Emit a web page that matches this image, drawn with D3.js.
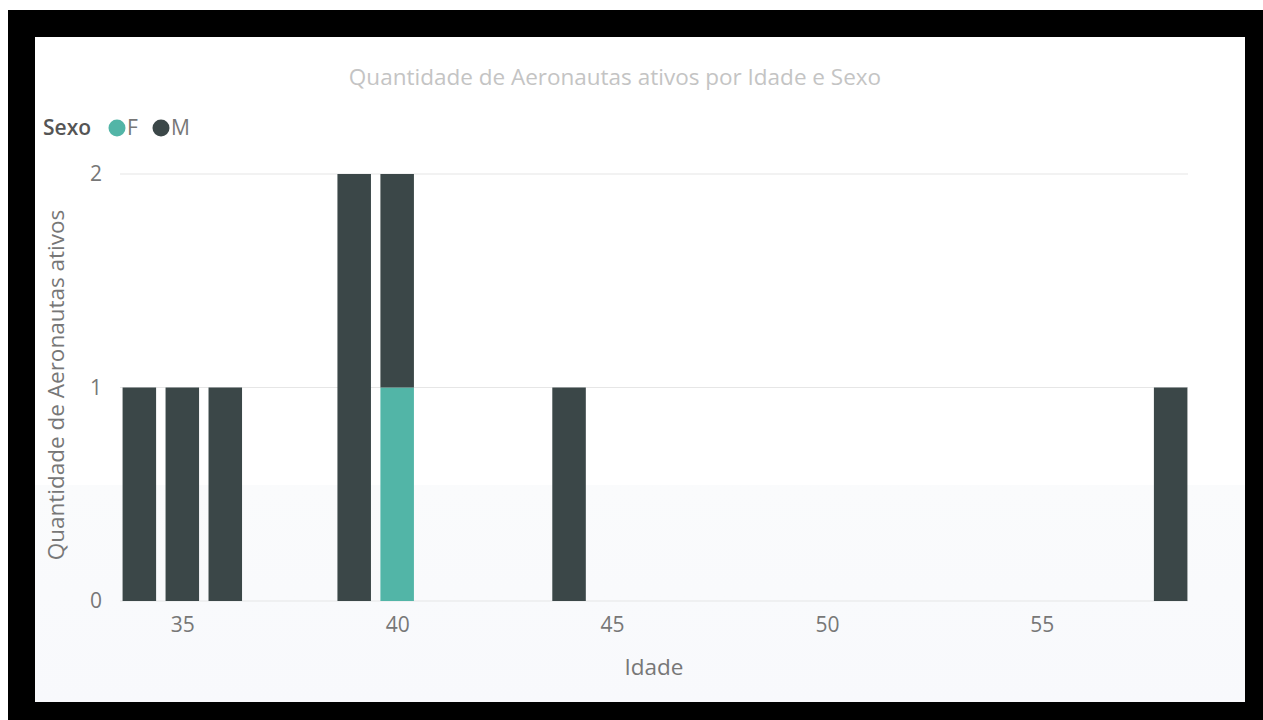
<!DOCTYPE html>
<html><head><meta charset="utf-8">
<script src="https://cdn.jsdelivr.net/npm/d3@7"></script>
<style>body{margin:0;background:#fff;} svg{display:block;}</style>
</head><body>
<script>
const ages = [34, 35, 36, 39, 40, 44, 58];
const femaleCounts = [0, 0, 0, 0, 1, 0, 0];
const maleCounts = [1, 1, 1, 2, 1, 1, 1];
const xTicks = [35, 40, 45, 50, 55];
const yTicks = [0, 1, 2];
const seriesNames = ["F", "M"];
const seriesColors = ["#52b5a7", "#3b4748"];
const title = "Quantidade de Aeronautas ativos por Idade e Sexo";

const W = 1263, H = 720;
const svg = d3.select("body").append("svg").attr("width", W).attr("height", H);
const font = "'Open Sans', 'Noto Sans', sans-serif";

// frame
svg.append("rect").attr("x", 8).attr("y", 10).attr("width", W - 8).attr("height", H - 10).attr("fill", "#000");
svg.append("rect").attr("x", 35).attr("y", 37).attr("width", 1210).attr("height", 665).attr("fill", "#fff");
const grad = svg.append("defs").append("linearGradient").attr("id", "g").attr("x1", 0).attr("x2", 0).attr("y1", 0).attr("y2", 1);
grad.append("stop").attr("offset", 0).attr("stop-color", "#fafbfc");
grad.append("stop").attr("offset", 1).attr("stop-color", "#f8f9fc");
svg.append("rect").attr("x", 35).attr("y", 485).attr("width", 1210).attr("height", 217).attr("fill", "url(#g)");

const x = d3.scaleLinear().domain([33.55, 58.45]).range([120, 1190]);
const y = d3.scaleLinear().domain([0, 2]).range([601, 174]);

// title
svg.append("text").attr("x", 615).attr("y", 85).attr("text-anchor", "middle")
  .attr("font-family", font).attr("font-size", 22.5).attr("fill", "#c4c4c4").text(title);

// legend
const lg = svg.append("g").attr("font-family", font).attr("font-size", 21);
lg.append("text").attr("x", 43).attr("y", 135).attr("fill", "#555").attr("font-weight", 600).text("Sexo");
const legX = [117, 161];
seriesNames.forEach((n, i) => {
  lg.append("circle").attr("cx", legX[i]).attr("cy", 128).attr("r", 8.5).attr("fill", seriesColors[i]);
  lg.append("text").attr("x", legX[i] + 10).attr("y", 135).attr("fill", "#777").text(n);
});

// grid
svg.append("g").selectAll("line").data(yTicks).join("line")
  .attr("x1", 120).attr("x2", 1188).attr("y1", d => y(d)).attr("y2", d => y(d))
  .attr("stroke", "#e6e6e6").attr("stroke-width", 1.2);

// y axis
const ya = svg.append("g").attr("transform", "translate(108,0)")
  .call(d3.axisLeft(y).tickValues(yTicks).tickSize(0).tickFormat(d3.format("d")));
ya.select(".domain").remove();
ya.selectAll("text").attr("font-family", font).attr("font-size", 21).attr("fill", "#777").attr("x", -6);

// x axis
const xa = svg.append("g").attr("transform", "translate(0,610)")
  .call(d3.axisBottom(x).tickValues(xTicks).tickSize(0));
xa.select(".domain").remove();
xa.selectAll("text").attr("font-family", font).attr("font-size", 21).attr("fill", "#777").attr("dy", "0.9em");

// axis titles
svg.append("text").attr("x", 654).attr("y", 675).attr("text-anchor", "middle")
  .attr("font-family", font).attr("font-size", 22.5).attr("fill", "#777").text("Idade");
svg.append("text").attr("transform", "translate(64,385) rotate(-90)").attr("text-anchor", "middle")
  .attr("font-family", font).attr("font-size", 22.5).attr("fill", "#777").text("Quantidade de Aeronautas ativos");

// bars
const data = ages.map((a, i) => ({ age: a, F: femaleCounts[i], M: maleCounts[i] }));
const stack = d3.stack().keys(seriesNames)(data);
const bw = x(34.39) - x(33.61);
svg.append("g").selectAll("g").data(stack).join("g")
  .attr("fill", (d, i) => seriesColors[i])
  .selectAll("rect").data(d => d.filter(s => s[1] > s[0])).join("rect")
  .attr("x", d => x(d.data.age) - bw / 2).attr("width", bw)
  .attr("y", d => y(d[1])).attr("height", d => y(d[0]) - y(d[1]));
</script>
</body></html>
